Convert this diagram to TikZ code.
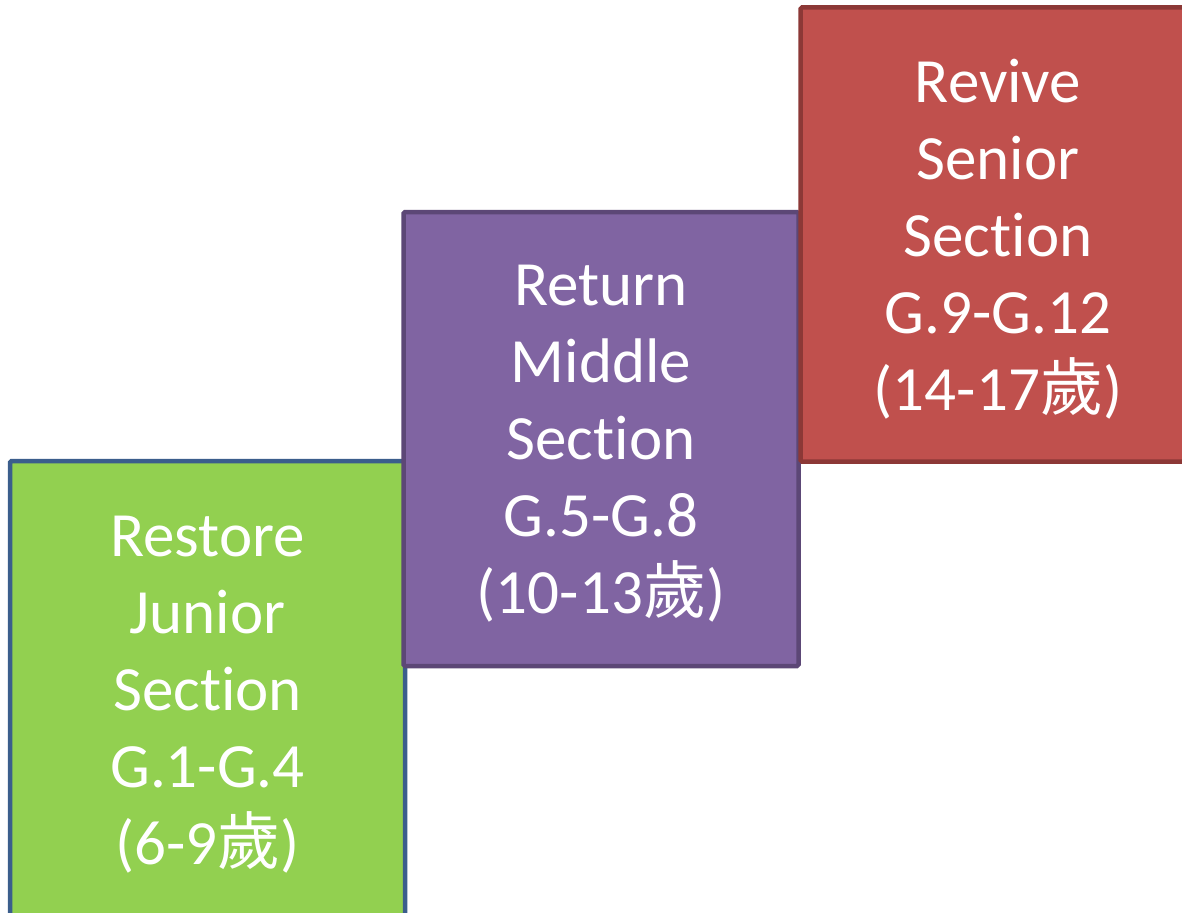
\documentclass[tikz,border=0pt]{standalone}
\usepackage{fontspec}
\setmainfont[Ligatures=NoCommon]{Carlito}
\newfontfamily\cjk{Noto Sans CJK TC}
\definecolor{gfill}{HTML}{92D050}
\definecolor{gline}{HTML}{3B5E8C}
\definecolor{pfill}{HTML}{8064A2}
\definecolor{pline}{HTML}{5C4776}
\definecolor{rfill}{HTML}{C0504D}
\definecolor{rline}{HTML}{8C3836}
\tikzset{
  stagebox/.style={rectangle, rounded corners=1.5pt, line width=4.5pt,
    minimum width=395pt, minimum height=454pt, inner sep=0pt},
  stagetext/.style={text=white, align=center, text width=380pt, inner sep=0pt,
    font=\fontsize{63pt}{77pt}\selectfont},
}
\begin{document}
\begin{tikzpicture}[x=1pt,y=-1pt]
\useasboundingbox (0,0) rectangle (1182,912);
\clip (0,0) rectangle (1182,912);
\fill[white] (0,0) rectangle (1182,912);
\node[stagebox, fill=gfill, draw=gline, minimum height=458pt] (junior) at (207.5,690) {};
\node[stagetext] (juniortext) at ([yshift=-5pt]junior.center)
  {Restore\\Junior\\Section\\G.1-G.4\\(6-9{\cjk 歲})};
\node[stagebox, fill=pfill, draw=pline] (middle) at (601,439) {};
\node[stagetext] (middletext) at ([yshift=-5pt]middle.center)
  {Return\\Middle\\Section\\G.5-G.8\\(10-13{\cjk 歲})};
\node[stagebox, fill=rfill, draw=rline] (senior) at (998,234.5) {};
\node[stagetext] (seniortext) at ([yshift=-5pt]senior.center)
  {Revive\\Senior\\Section\\G.9-G.12\\(14-17{\cjk 歲})};
\end{tikzpicture}
\end{document}
